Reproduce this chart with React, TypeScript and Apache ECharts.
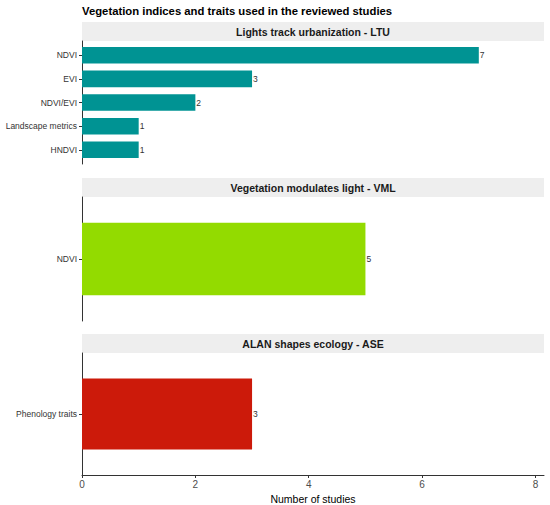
import React, { useEffect, useRef } from "react";
import * as echarts from "echarts";

// ---- data ----
const chartTitle = "Vegetation indices and traits used in the reviewed studies";
const panelTitles = [
  "Lights track urbanization - LTU",
  "Vegetation modulates light - VML",
  "ALAN shapes ecology - ASE",
];
const ltuCategories = ["NDVI", "EVI", "NDVI/EVI", "Landscape metrics", "HNDVI"];
const ltuValues = [7, 3, 2, 1, 1];
const vmlCategories = ["NDVI"];
const vmlValues = [5];
const aseCategories = ["Phenology traits"];
const aseValues = [3];
const panelColors = ["#009393", "#93DB00", "#CC1A0A"];
const xTicks = [0, 2, 4, 6, 8];
const xAxisTitle = "Number of studies";

// ---- layout ----
const W = 550;
const H = 505;
const LEFT = 82;
const RIGHT = 6;
const PLOT_W = W - LEFT - RIGHT;
const X_MAX = 8.15;
const STRIP_H = 19;
const panelTops = [41, 197, 353];
const panelHeights = [123, 124, 122];
const FONT = "'Liberation Sans', Arial, Helvetica, sans-serif";

export default function App() {
  const ref = useRef<HTMLDivElement>(null);
  useEffect(() => {
    document.body.style.margin = "0";
    const chart = echarts.init(ref.current!, null, { renderer: "svg" });
    const cats = [ltuCategories, vmlCategories, aseCategories];
    const vals = [ltuValues, vmlValues, aseValues];

    const grids: any[] = [];
    const xAxes: any[] = [];
    const yAxes: any[] = [];
    const series: any[] = [];
    const graphics: any[] = [];

    cats.forEach((c, i) => {
      const top = panelTops[i];
      const h = panelHeights[i];
      const n = c.length;
      // ggplot discrete expansion: 0.6 per side -> range n + 0.2 units
      const u = h / (n + 0.2);
      const inset = 0.1 * u;
      const last = i === cats.length - 1;
      grids.push({ left: LEFT, width: PLOT_W, top, height: h, containLabel: false });
      grids.push({ left: LEFT, width: PLOT_W, top: top + inset, height: h - 2 * inset, containLabel: false });
      const gFull = 2 * i;
      const gIn = 2 * i + 1;
      xAxes.push({
        gridIndex: gFull,
        type: "value",
        min: 0,
        max: X_MAX,
        show: last,
        axisLine: { show: true, lineStyle: { color: "#333", width: 1 } },
        axisTick: { show: true, length: 3, customValues: xTicks, lineStyle: { color: "#333" } },
        axisLabel: { show: true, customValues: xTicks, fontSize: 10, color: "#4D4D4D", margin: 4, fontFamily: FONT },
        splitLine: { show: false },
        name: last ? xAxisTitle : "",
        nameLocation: "middle",
        nameGap: 18,
        nameTextStyle: { fontSize: 10.5, color: "#000", fontFamily: FONT },
      });
      yAxes.push({
        gridIndex: gFull,
        type: "value",
        min: 0,
        max: 1,
        axisLine: { show: true, onZero: false, lineStyle: { color: "#333", width: 1 } },
        axisTick: { show: false },
        axisLabel: { show: false },
        splitLine: { show: false },
      });
      xAxes.push({
        gridIndex: gIn,
        type: "value",
        min: 0,
        max: X_MAX,
        show: false,
        splitLine: { show: false },
      });
      yAxes.push({
        gridIndex: gIn,
        type: "category",
        data: c,
        inverse: true,
        axisLine: { show: false },
        axisTick: { show: true, alignWithLabel: true, length: 3, lineStyle: { color: "#333" } },
        axisLabel: { fontSize: 8.5, color: "#333", margin: 5, fontFamily: FONT },
        splitLine: { show: false },
      });
      series.push({
        type: "bar",
        xAxisIndex: gIn,
        yAxisIndex: gIn,
        data: vals[i],
        barWidth: "70%",
        itemStyle: { color: panelColors[i] },
        label: {
          show: true,
          position: "right",
          distance: 1,
          fontSize: 8.5,
          color: "#333",
          fontFamily: FONT,
        },
      });
      graphics.push({
        type: "rect",
        left: LEFT,
        top: top - STRIP_H,
        shape: { width: PLOT_W, height: STRIP_H },
        style: { fill: "#EEEEEE" },
        silent: true,
      });
      graphics.push({
        type: "text",
        x: LEFT + PLOT_W / 2,
        y: top - STRIP_H / 2,
        style: {
          text: panelTitles[i],
          textAlign: "center",
          textVerticalAlign: "middle",
          fontSize: 10.5,
          fontWeight: "bold",
          fill: "#1A1A1A",
          fontFamily: FONT,
        },
        silent: true,
      });
    });

    chart.setOption({
      animation: false,
      backgroundColor: "#fff",
      textStyle: { fontFamily: FONT },
      title: {
        text: chartTitle,
        left: LEFT,
        top: 5,
        padding: 0,
        textStyle: { fontSize: 11.3, fontWeight: "bold", color: "#000", fontFamily: FONT },
      },
      grid: grids,
      xAxis: xAxes,
      yAxis: yAxes,
      series,
      graphic: graphics,
    });
    return () => chart.dispose();
  }, []);
  return <div ref={ref} style={{ width: W, height: H }} />;
}
